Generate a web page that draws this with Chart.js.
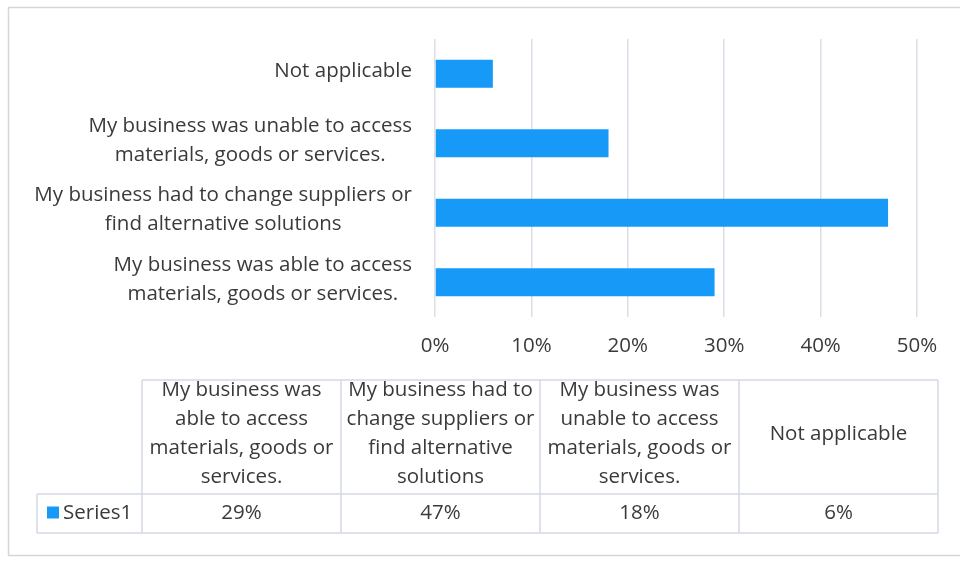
<!DOCTYPE html>
<html>
<head>
<meta charset="utf-8">
<script src="https://cdn.jsdelivr.net/npm/chart.js@4.4.0/dist/chart.umd.min.js"></script>
<style>
  html, body { margin: 0; background: #fff; }
  #wrap { width: 960px; height: 565px; }
</style>
</head>
<body>
<div id="wrap"><canvas id="chart" width="960" height="565"></canvas></div>
<script>
// categories in sheet order (first one sits at the bottom of the bar chart)
const categories = [
  'My business was able to access\nmaterials, goods or services.',
  'My business had to change suppliers or\nfind alternative solutions',
  'My business was unable to access\nmaterials, goods or services.',
  'Not applicable'
];
const seriesName = 'Series1';
const values = [29, 47, 18, 6];
const xTicks = [0, 10, 20, 30, 40, 50];

const FONT = '"Open Sans", Lato, sans-serif';
const FONT_SIZE = 20.5;
const TEXT = '#3a3a3a';
const BAR = '#1799f8';
const GRID = '#d9dee7';
const TABLE_LINE = '#d3dae5';

// table geometry
const tableTop = 380;
const rowSplit = 494;
const tableBottom = 533;
const keyLeft = 37;
const colLeft = 142;
const colWidth = 199;

function font(size = FONT_SIZE) {
  return `${size}px ${FONT}`;
}

function wrap(ctx, text, maxWidth) {
  const words = text.replace(/\n/g, ' ').split(' ');
  const lines = [];
  let line = '';
  words.forEach(w => {
    const test = line ? line + ' ' + w : w;
    if (ctx.measureText(test).width > maxWidth && line) {
      lines.push(line);
      line = w;
    } else {
      line = test;
    }
  });
  if (line) lines.push(line);
  return lines;
}

// light outer frame around the whole chart
const frame = {
  id: 'frame',
  beforeDraw(chart) {
    const ctx = chart.ctx;
    ctx.save();
    ctx.fillStyle = '#fff';
    ctx.fillRect(0, 0, chart.width, chart.height);
    ctx.strokeStyle = '#d6d6d6';
    ctx.lineWidth = 1.5;
    ctx.strokeRect(8.5, 7.5, chart.width + 20, 548);
    ctx.restore();
  }
};

// category labels: block right aligned to the axis, lines centred inside the block
const axisLabels = {
  id: 'axisLabels',
  afterDraw(chart) {
    const ctx = chart.ctx;
    const yScale = chart.scales.y;
    const right = chart.chartArea.left - 23;
    const lineH = 29;
    ctx.save();
    ctx.font = font();
    ctx.fillStyle = TEXT;
    ctx.textAlign = 'center';
    ctx.textBaseline = 'middle';
    categories.forEach((label, i) => {
      const lines = label.split('\n');
      const widest = Math.max(...lines.map(l => ctx.measureText(l).width));
      const cx = right - widest / 2;
      const cy = yScale.getPixelForValue(i) - 3;
      lines.forEach((l, j) => {
        ctx.fillText(l, cx, cy + (j - (lines.length - 1) / 2) * lineH);
      });
    });
    ctx.restore();
  }
};

// data table under the plot
const dataTable = {
  id: 'dataTable',
  afterDraw(chart) {
    const ctx = chart.ctx;
    const right = colLeft + colWidth * categories.length;
    ctx.save();
    ctx.strokeStyle = TABLE_LINE;
    ctx.lineWidth = 1.5;
    ctx.beginPath();
    ctx.moveTo(colLeft, tableTop);
    ctx.lineTo(right, tableTop);
    ctx.moveTo(keyLeft, rowSplit);
    ctx.lineTo(right, rowSplit);
    ctx.moveTo(keyLeft, tableBottom);
    ctx.lineTo(right, tableBottom);
    ctx.moveTo(keyLeft, rowSplit);
    ctx.lineTo(keyLeft, tableBottom);
    for (let i = 0; i <= categories.length; i++) {
      const x = colLeft + i * colWidth;
      ctx.moveTo(x, tableTop);
      ctx.lineTo(x, tableBottom);
    }
    ctx.stroke();

    ctx.font = font();
    ctx.fillStyle = TEXT;
    ctx.textAlign = 'center';
    ctx.textBaseline = 'middle';
    const lineH = 29;
    const headMid = (tableTop + rowSplit) / 2 - 3;
    const rowMid = (rowSplit + tableBottom) / 2;
    categories.forEach((label, i) => {
      const cx = colLeft + i * colWidth + colWidth / 2;
      const lines = wrap(ctx, label, colWidth - 6);
      lines.forEach((l, j) => {
        ctx.fillText(l, cx, headMid + (j - (lines.length - 1) / 2) * lineH);
      });
      ctx.fillText(values[i] + '%', cx, rowMid);
    });

    // legend key + series name
    ctx.fillStyle = BAR;
    ctx.fillRect(47, rowMid - 7, 12, 12);
    ctx.fillStyle = TEXT;
    ctx.textAlign = 'left';
    ctx.fillText(seriesName, 63, rowMid);
    ctx.restore();
  }
};

new Chart(document.getElementById('chart'), {
  type: 'bar',
  data: {
    labels: categories,
    datasets: [{
      label: seriesName,
      data: values,
      backgroundColor: BAR,
      barPercentage: 0.4,
      categoryPercentage: 1
    }]
  },
  options: {
    indexAxis: 'y',
    responsive: false,
    animation: false,
    devicePixelRatio: 1,
    layout: {
      padding: { left: 0, top: 39, right: 43, bottom: 0 }
    },
    scales: {
      x: {
        min: xTicks[0],
        max: xTicks[xTicks.length - 1],
        afterBuildTicks: scale => {
          scale.ticks = xTicks.map(v => ({ value: v }));
        },
        ticks: {
          callback: v => v + '%',
          color: TEXT,
          font: { family: FONT, size: FONT_SIZE },
          padding: 17,
          maxRotation: 0
        },
        grid: { color: GRID, lineWidth: 1.5, drawTicks: false },
        border: { display: false },
        afterFit: scale => { scale.height = 248; }
      },
      y: {
        reverse: true,
        ticks: { display: false },
        grid: { display: false },
        border: { display: false },
        afterFit: scale => { scale.width = 435; }
      }
    },
    plugins: {
      legend: { display: false },
      tooltip: { enabled: false }
    }
  },
  plugins: [frame, axisLabels, dataTable]
});
</script>
</body>
</html>
